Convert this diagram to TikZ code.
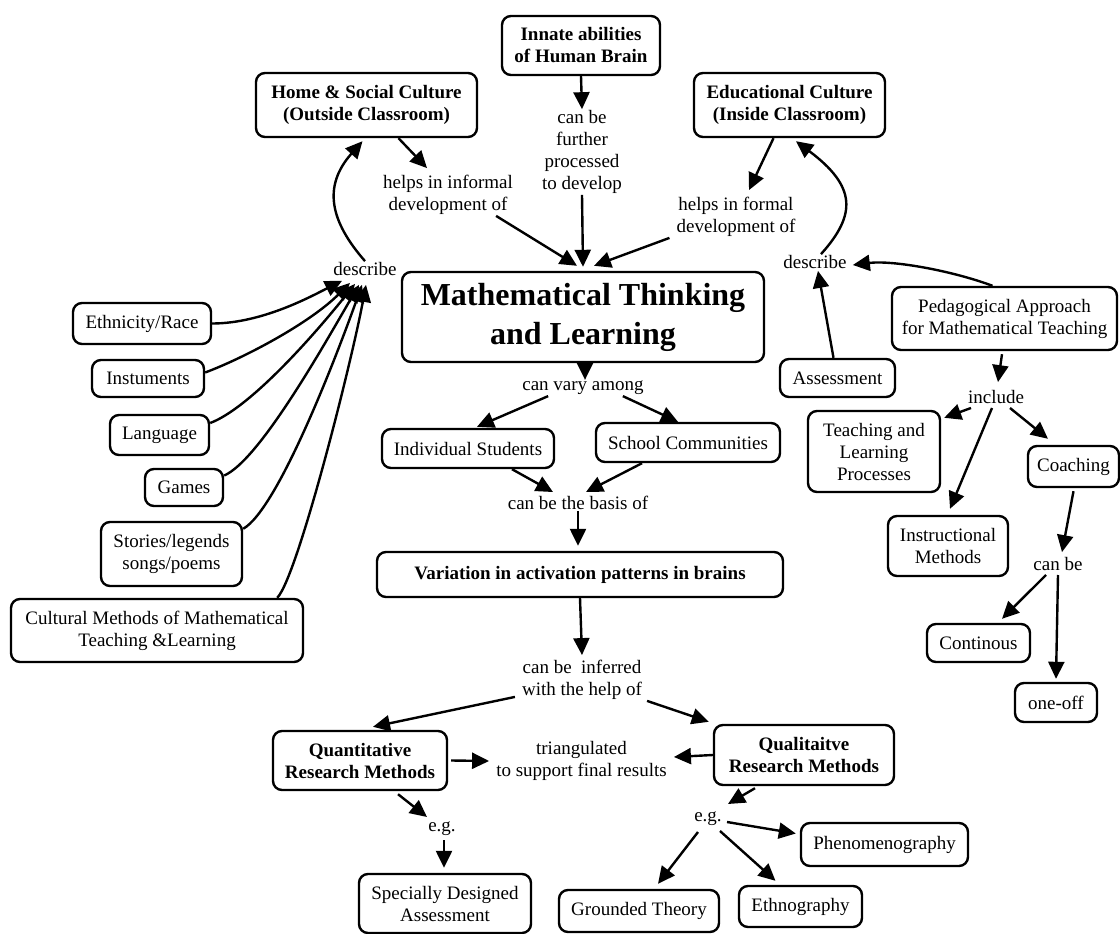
\documentclass[tikz,border=0pt]{standalone}
\usepackage{fontspec}
\setmainfont{Liberation Serif}
\usetikzlibrary{arrows.meta,calc}
\newcommand\mynf{\fontsize{19}{22}\selectfont}
\begin{document}
\begin{tikzpicture}[x=1pt,y=-1pt,
  every node/.style={font=\mynf, align=center},
  box/.style={draw, line width=2.4pt, rounded corners=9pt, inner sep=2pt},
  bbox/.style={box, font=\mynf\bfseries},
  lbl/.style={inner sep=1pt},
  arr/.style={line width=2.4pt, -{Triangle[length=17pt,width=16pt]}}]
\fill[white] (0,0) rectangle (1120,934);
\useasboundingbox (0,0) rectangle (1120,934);

% top
\node[bbox, minimum width=158, minimum height=59] (innate) at (581,45.5) {Innate abilities\\of Human Brain};
\node[bbox, minimum width=221, minimum height=64] (home) at (366.5,105) {Home \& Social Culture\\(Outside Classroom)};
\node[bbox, minimum width=191, minimum height=64] (edu) at (789.5,105) {Educational Culture\\(Inside Classroom)};
\node[lbl] (canfurther) at (582,152) {can be\\further\\processed\\to develop};
\node[lbl] (informal) at (448,195) {helps in informal\\development of};
\node[lbl] (formal) at (736,217) {helps in formal\\development of};
\node[lbl] (descL) at (365,269) {describe};
\node[lbl] (descR) at (815,262) {describe};
\node[box, minimum width=362, minimum height=90, font=\fontsize{32}{39}\selectfont\bfseries] (math) at (583,317) {Mathematical Thinking\\and Learning};

% left column
\node[box, minimum width=138, minimum height=41] (ethn) at (142,323.5) {Ethnicity/Race};
\node[box, minimum width=112, minimum height=37] (inst) at (148,378.5) {Instuments};
\node[box, minimum width=99, minimum height=40] (lang) at (159.5,435) {Language};
\node[box, minimum width=78, minimum height=37] (games) at (184,487.5) {Games};
\node[box, minimum width=141, minimum height=64] (stories) at (171.5,554) {Stories/legends\\songs/poems};
\node[box, minimum width=292, minimum height=63] (cultural) at (157,630.5) {Cultural Methods of Mathematical\\Teaching \&Learning};

% right column
\node[box, minimum width=225, minimum height=63] (ped) at (1004.5,318.5) {Pedagogical Approach\\for Mathematical Teaching};
\node[box, minimum width=115, minimum height=38] (assess) at (837.5,378) {Assessment};
\node[lbl] (include) at (996,397) {include};
\node[box, minimum width=132, minimum height=81] (teach) at (874,451.5) {Teaching and\\Learning\\Processes};
\node[box, minimum width=91, minimum height=41] (coach) at (1073.5,466.5) {Coaching};
\node[box, minimum width=120, minimum height=60] (instr) at (948,546) {Instructional\\Methods};
\node[lbl] (canbe) at (1058,564) {can be};
\node[box, minimum width=103, minimum height=38] (cont) at (978.5,643) {Continous};
\node[box, minimum width=82, minimum height=39] (oneoff) at (1056,702.5) {one-off};

% centre
\node[lbl] (vary) at (583,388) {can vary among};
\node[box, minimum width=172, minimum height=39] (indiv) at (468,448.5) {Individual Students};
\node[box, minimum width=184, minimum height=39] (school) at (688,442.5) {School Communities};
\node[lbl] (basis) at (578,503) {can be the basis of};
\node[bbox, minimum width=406, minimum height=45] (variation) at (580,574.5) {Variation in activation patterns in brains};
\node[lbl] (inferred) at (582,680) {can be~ inferred\\with the help of};
\node[bbox, minimum width=174, minimum height=59] (quant) at (360,760.5) {Quantitative\\Research Methods};
\node[lbl] (triang) at (581.5,761) {triangulated\\to support final results};
\node[bbox, minimum width=180, minimum height=60] (qual) at (804,755) {Qualitaitve\\Research Methods};
\node[lbl] (egL) at (442,829) {e.g.};
\node[box, minimum width=172, minimum height=59] (special) at (445,903.5) {Specially Designed\\Assessment};
\node[lbl] (egR) at (708,819) {e.g.};
\node[box, minimum width=167, minimum height=43] (phen) at (884.5,844.5) {Phenomenography};
\node[box, minimum width=160, minimum height=42] (grounded) at (639,911) {Grounded Theory};
\node[box, minimum width=123, minimum height=41] (ethno) at (800.5,906.5) {Ethnography};

% connectors: top
\draw[arr] (innate.south) -- (canfurther.north);
\draw[arr] (canfurther.south) -- ([yshift=4pt]math.north);
\draw[arr] ([xshift=32pt]home.south) -- ([xshift=-21pt,yshift=6pt]informal.north);
\draw[arr] ([xshift=-18pt]informal.south east) -- ([xshift=-6pt,yshift=5pt]math.north);
\draw[arr] ([xshift=-16pt]edu.south) -- ([xshift=13pt,yshift=6pt]formal.north);
\draw[arr] ([xshift=-6pt]formal.south west) -- ([xshift=11pt,yshift=5pt]math.north);
\draw[arr] (descL.north) .. controls +(-35,-40) and +(-40,45) .. ([xshift=-4pt,yshift=-3pt]home.south);
\draw[arr] ([xshift=6pt]descR.north) .. controls +(36,-40) and +(60,45) .. ([xshift=6.5pt,yshift=-3pt]edu.south);
\draw[arr] ([xshift=-12pt]ped.north) .. controls +(-40,-15) and +(40,-5) .. ([xshift=5pt,yshift=-3pt]descR.east);
\draw[arr] ([xshift=-4pt]assess.north) -- ([xshift=3pt,yshift=-1pt]descR.south);

% left bundle
\draw[arr] (ethn.east) .. controls +(50,0) and +(-30,15) .. ([xshift=-23pt,yshift=-4pt]descL.south);
\draw[arr] ([yshift=6pt]inst.east) .. controls +(40,-15) and +(-40,40) .. ([xshift=-15pt,yshift=-6pt]descL.south);
\draw[arr] ([yshift=12pt]lang.east) .. controls +(40,-15) and +(-40,50) .. ([xshift=-10pt,yshift=-7pt]descL.south);
\draw[arr] ([yshift=12pt]games.east) .. controls +(35,-15) and +(-35,60) .. ([xshift=-6pt,yshift=-8pt]descL.south);
\draw[arr] ([yshift=-8pt]stories.north east) .. controls +(35,-20) and +(-25,70) .. ([xshift=-3pt,yshift=-8pt]descL.south);
\draw[arr] ([xshift=-27pt]cultural.north east) .. controls +(20,-20) and +(-15,80) .. ([xshift=1pt,yshift=-8pt]descL.south);

% centre
\draw[arr] ([xshift=2pt]math.south) -- ([xshift=2pt]vary.north);
\draw[arr] ([xshift=27pt]vary.south west) -- ([xshift=9pt,yshift=1pt]indiv.north);
\draw[arr] ([xshift=-22pt]vary.south east) -- ([xshift=-10pt]school.north);
\draw[arr] ([xshift=44pt]indiv.south) -- ([xshift=-25pt,yshift=3pt]basis.north);
\draw[arr] ([xshift=-46pt]school.south) -- ([xshift=8pt,yshift=3pt]basis.north);
\draw[arr] (basis.south) -- ([xshift=-2pt,yshift=5pt]variation.north);
\draw[arr] (variation.south) -- ([yshift=4pt]inferred.north);
\draw[arr] ([xshift=-6pt,yshift=4pt]inferred.south west) -- ([xshift=13pt,yshift=3pt]quant.north);
\draw[arr] ([xshift=4pt]inferred.south east) -- ([xshift=-4pt,yshift=2pt]qual.north west);
\draw[arr] ([xshift=3pt]quant.east) -- ([xshift=-6pt]triang.west);
\draw[arr] (qual.west) -- ([xshift=6pt,yshift=4pt]triang.east);
\draw[arr] ([xshift=38pt,yshift=-3pt]quant.south) -- ([xshift=-15pt,yshift=12pt]egL.center);
\draw[arr] ([xshift=2pt,yshift=-11pt]egL.center) -- ([xshift=-1pt,yshift=5pt]special.north);
\draw[arr] ([xshift=-49pt,yshift=-2pt]qual.south) -- ([xshift=20pt,yshift=15pt]egR.center);
\draw[arr] ([xshift=19pt,yshift=-3pt]egR.center) -- ([xshift=-4pt,yshift=11pt]phen.west);
\draw[arr] ([xshift=-10pt,yshift=-13pt]egR.center) -- ([xshift=19pt,yshift=5pt]grounded.north);
\draw[arr] ([xshift=12pt,yshift=-12pt]egR.center) -- ([xshift=-25pt,yshift=4pt]ethno.north);

% right
\draw[arr] ([xshift=-2.5pt,yshift=-3pt]ped.south) -- ([xshift=2pt,yshift=7pt]include.north);
\draw[arr] ([xshift=-25pt,yshift=-11pt]include.center) -- ([xshift=3pt,yshift=-8pt]teach.north east);
\draw[arr] ([xshift=-4pt,yshift=-11pt]include.center) -- ([xshift=2pt,yshift=6pt]instr.north);
\draw[arr] ([xshift=14pt,yshift=-11pt]include.center) -- ([xshift=-25.5pt,yshift=6pt]coach.north);
\draw[arr] ([yshift=-3pt]coach.south) -- ([xshift=4pt,yshift=4pt]canbe.north);
\draw[arr] ([xshift=-12pt,yshift=-11pt]canbe.center) -- ([xshift=23.5pt,yshift=4pt]cont.north);
\draw[arr] ([yshift=-11pt]canbe.center) -- ([yshift=3pt]oneoff.north);
\end{tikzpicture}
\end{document}
